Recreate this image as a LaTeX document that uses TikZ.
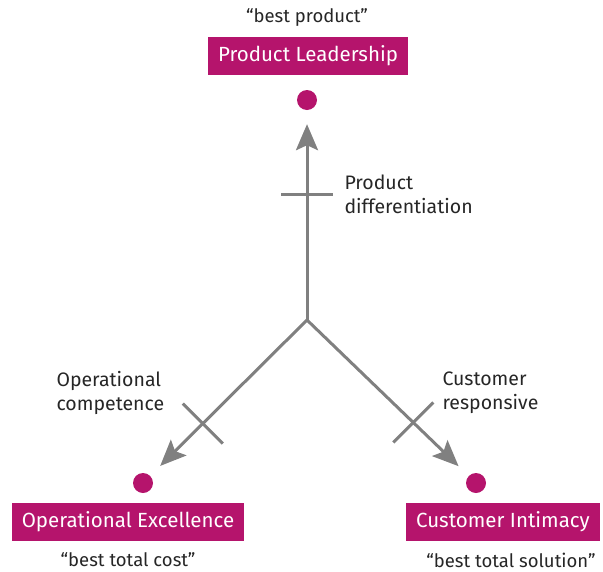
\documentclass[tikz,border=0pt]{standalone}
\usepackage{fontspec}
\setmainfont{Fira Sans}
\usepackage{xcolor}
\usepackage{tikz}
\usetikzlibrary{arrows.meta,positioning}

\definecolor{plum}{RGB}{181,20,108}
\definecolor{leggray}{RGB}{128,128,128}
\definecolor{inkgray}{RGB}{38,38,38}

\begin{document}
\begin{tikzpicture}[x=1pt,y=-1pt,
    valuebox/.style={fill=plum,text=white,inner xsep=10pt,inner ysep=0pt,
        minimum height=38pt,font=\fontsize{20.5}{24}\selectfont},
    valuedot/.style={circle,fill=plum,inner sep=0pt,minimum size=20pt},
    motto/.style={text=inkgray,font=\fontsize{18.5}{22}\selectfont},
    driver/.style={text=inkgray,align=left,anchor=west,
        font=\fontsize{19.5}{24}\selectfont},
    leg/.style={draw=leggray,line width=3pt,
        -{Stealth[length=26pt,width=22pt,inset=5pt]},shorten >=14pt},
    crossbar/.style={draw=leggray,line width=3pt}]
    \useasboundingbox (0,0) rectangle (603,571);

    % The three value disciplines
    \coordinate (hub) at (307,320);
    \node[valuedot] (pldot) at (307,100) {};
    \node[valuedot] (oedot) at (143,483) {};
    \node[valuedot] (cidot) at (476,483) {};

    \node[valuebox] (pl) at (308,56) {Product Leadership};
    \node[valuebox] (oe) at (128,522) {Operational Excellence};
    \node[valuebox] (ci) at (503,522) {Customer Intimacy};

    \node[motto] (plmotto) at (307,18) {``best product''};
    \node[motto] (oemotto) at (128,560) {``best total cost''};
    \node[motto] (cimotto) at (511,560) {``best total solution''};

    % Arrows out of the hub
    \draw[leg] (hub) -- (pldot);
    \draw[leg] (hub) -- (oedot);
    \draw[leg] (hub) -- (cidot);

    % Cross marks on each arrow
    \path (hub) -- (pldot) coordinate[pos=0.6] (plcross);
    \path (hub) -- (oedot) coordinate[pos=0.665] (oecross);
    \path (hub) -- (cidot) coordinate[pos=0.657] (cicross);
    \draw[crossbar] (plcross) ++(-26,0) -- ++(52,0);
    \draw[crossbar] (oecross) ++(-20,-20) -- ++(40,40);
    \draw[crossbar] (cicross) ++(20,-20) -- ++(-40,40);

    % Driver labels
    \node[driver] (pldriver) at (341,194) {Product\\differentiation};
    \node[driver] (oedriver) at (53,393) {Operational\\competence};
    \node[driver] (cidriver) at (439,393) {Customer\\responsive};
\end{tikzpicture}
\end{document}
